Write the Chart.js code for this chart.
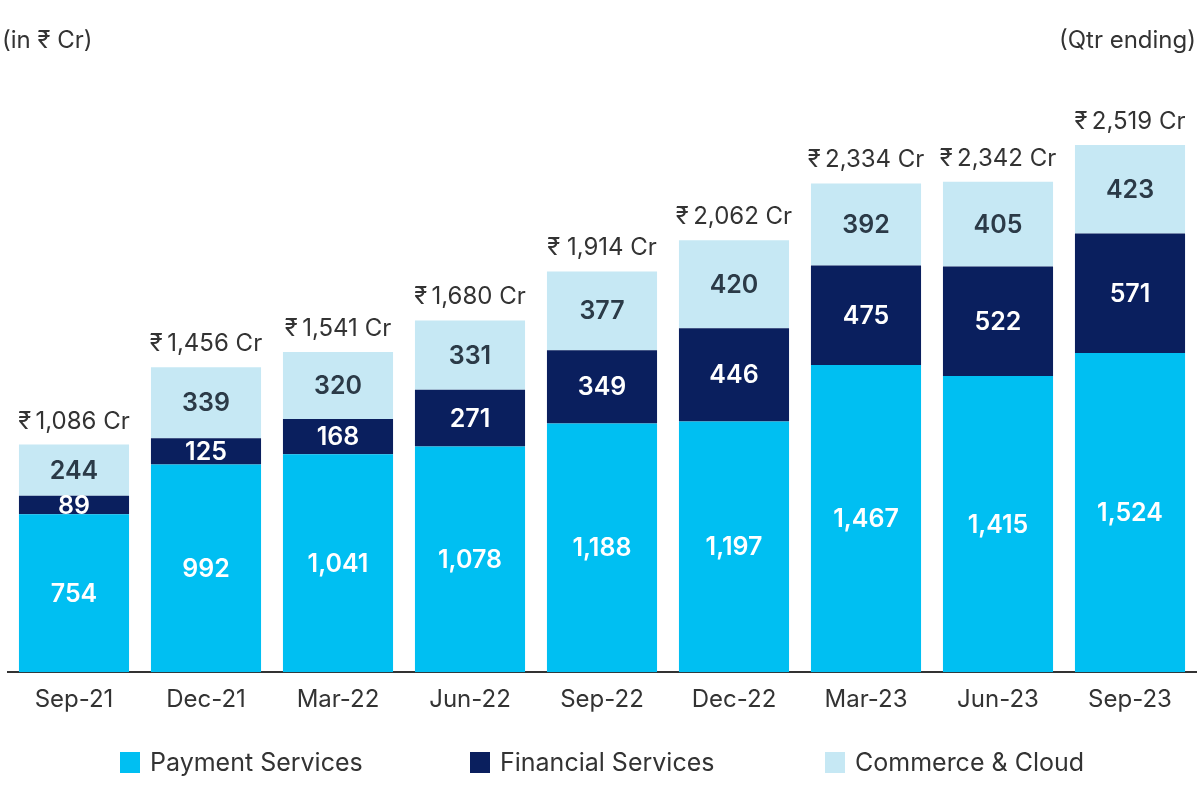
<!DOCTYPE html>
<html><head><meta charset="utf-8">
<script src="https://cdn.jsdelivr.net/npm/chart.js@4"></script>
<style>html,body{margin:0;padding:0;background:#fff}#wrap{width:1200px;height:800px;position:relative}</style>
</head><body><div id="wrap"><canvas id="c" width="1200" height="800"></canvas></div>
<script>
const categories = ["Sep-21","Dec-21","Mar-22","Jun-22","Sep-22","Dec-22","Mar-23","Jun-23","Sep-23"];
const paymentServices = [754,992,1041,1078,1188,1197,1467,1415,1524];
const financialServices = [89,125,168,271,349,446,475,522,571];
const commerceCloud = [244,339,320,331,377,420,392,405,423];
const totalLabels = ["₹\u20091,086 Cr","₹\u20091,456 Cr","₹\u20091,541 Cr","₹\u20091,680 Cr","₹ 1,914 Cr","₹\u20092,062 Cr","₹\u20092,334 Cr","₹\u20092,342 Cr","₹\u20092,519 Cr"];
const legendX = [120, 470, 825];
const FONT = "Inter, 'Noto Sans', sans-serif";

const labelPlugin = {
  id:'labels',
  afterDatasetsDraw(chart){
    const ctx = chart.ctx;
    ctx.save();
    ctx.textAlign='center'; ctx.textBaseline='middle';
    ctx.font = "600 25px " + FONT;
    chart.data.datasets.forEach((ds,di)=>{
      const meta = chart.getDatasetMeta(di);
      meta.data.forEach((bar,i)=>{
        const y = (bar.y + bar.base)/2;
        ctx.fillStyle = di===2 ? '#2b3a47' : '#ffffff';
        ctx.fillText(ds.data[i].toLocaleString('en-US'), bar.x, y+1);
      });
    });
    const top = chart.getDatasetMeta(2);
    ctx.font = "24px " + FONT;
    ctx.fillStyle = '#333333';
    ctx.textBaseline='alphabetic';
    top.data.forEach((bar,i)=>{
      ctx.fillText(totalLabels[i], bar.x, bar.y - 16);
    });
    ctx.textAlign='left';
    ctx.fillText("(in ₹ Cr)", 2, 48);
    ctx.textAlign='right';
    ctx.fillText("(Qtr ending)", 1196, 48);
    // legend
    ctx.font = "25px " + FONT;
    ctx.textBaseline='middle';
    ctx.textAlign='left';
    chart.data.datasets.forEach((ds,di)=>{
      const x = legendX[di];
      ctx.fillStyle = ds.backgroundColor;
      ctx.fillRect(x, 752, 20, 21);
      ctx.fillStyle = '#333333';
      ctx.fillText(ds.label, x + 30, 763);
    });
    ctx.restore();
  }
};

new Chart(document.getElementById('c'), {
  type:'bar',
  data:{
    labels: categories,
    datasets:[
      {label:'Payment Services', data: paymentServices, backgroundColor:'#00bff2'},
      {label:'Financial Services', data: financialServices, backgroundColor:'#0a1f5e'},
      {label:'Commerce & Cloud', data: commerceCloud, backgroundColor:'#c6e8f4'}
    ]
  },
  options:{
    responsive:false,
    animation:false,
    layout:{padding:{left:8,right:4,top:44,bottom:73}},
    datasets:{bar:{barPercentage:0.834,categoryPercentage:1}},
    scales:{
      x:{stacked:true, grid:{display:false, drawTicks:false}, border:{display:true,color:'#333333',width:2},
         ticks:{color:'#333333', font:{family:FONT,size:24}, padding:13}},
      y:{stacked:true, display:false, min:0, max:3000}
    },
    plugins:{
      legend:{display:false},
      tooltip:{enabled:false}
    }
  },
  plugins:[labelPlugin]
});
</script></body></html>
